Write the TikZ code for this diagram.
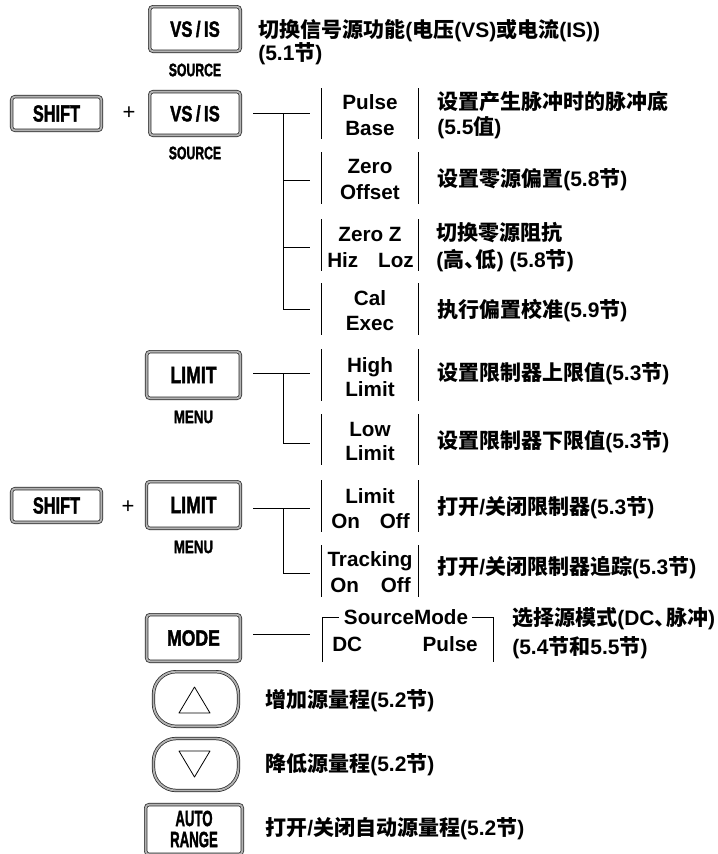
\documentclass[tikz,border=0pt]{standalone}
\usepackage{fontspec}
\usepackage{graphicx}
\setmainfont{Liberation Sans}
\newfontfamily\cjk{Noto Sans CJK SC}
\newfontfamily\keyf{Liberation Sans Bold}[FakeBold=2]
\newcommand\zh[1]{{\cjk\bfseries #1}}
\newcommand\dun{\makebox[0.55em][l]{\cjk\bfseries 、}}
\newcommand\sq[2][0.76]{\scalebox{#1}[1]{#2}}
\newcommand\labfont{\fontsize{15.5pt}{18pt}\selectfont\bfseries}
\newcommand\zhfont{\fontsize{15.75pt}{19pt}\selectfont\bfseries}
\newcommand\keyfont{\keyf\fontsize{17.5pt}{18pt}\selectfont}
\newcommand\vsfont{\keyf\fontsize{16.5pt}{18pt}\selectfont}
\newcommand\autofont{\keyf\fontsize{16.5pt}{15.75pt}\selectfont}
\newcommand\subfont{\keyf\fontsize{13.5pt}{14pt}\selectfont}
\begin{document}
\begin{tikzpicture}[x=0.75pt,y=-0.75pt,
  btn/.style={draw=black!85, double=black!30, line width=0.55pt, double distance=1.4pt,
    rounded corners=2.5pt, inner sep=0pt, font=\keyfont},
  oval/.style={draw=black!85, double=black!30, line width=0.55pt, double distance=1.4pt,
    rounded corners=17pt, inner sep=0pt},
  sub/.style={font=\subfont, inner sep=0pt},
  lab/.style={font=\labfont, inner sep=0pt, anchor=base},
  labw/.style={font=\labfont, inner sep=0pt, anchor=base west},
  labe/.style={font=\labfont, inner sep=0pt, anchor=base east},
  zht/.style={font=\zhfont, inner sep=0pt, anchor=base west},
  plus/.style={font=\fontsize{16.5pt}{18pt}\selectfont, inner sep=0pt},
  wire/.style={line width=0.75pt, black},
  bar/.style={line width=0.75pt, black},
  tri/.style={line width=0.6pt, black, line join=round}]
\useasboundingbox (0,0) rectangle (718,854);

% ---------- row 1 : VS/IS ----------
\node[btn, font=\vsfont, minimum width=68pt, minimum height=33.5pt] (vs1) at (195,29) {\sq{VS\hspace{3.4pt}/\hspace{3.4pt}IS}};
\node[sub] (src1) at (195,70) {\sq[0.68]{SOURCE}};
\node[zht] (t1a) at (258,37.5) {\zh{切换信号源功能}(\zh{电压}(VS)\zh{或电流}(IS))};
\node[zht] (t1b) at (258,60.5) {(5.1\zh{节})};

% ---------- row 2 : SHIFT + VS/IS ----------
\node[btn, minimum width=67.3pt, minimum height=25.3pt] (sh1) at (56.5,113.5) {\sq[0.7]{SHIFT}};
\node[plus] (p1) at (129,113) {+};
\node[btn, font=\vsfont, minimum width=68pt, minimum height=32.8pt] (vs2) at (195,113.5) {\sq{VS\hspace{3.4pt}/\hspace{3.4pt}IS}};
\node[sub] (src2) at (195,153) {\sq[0.68]{SOURCE}};

\coordinate (a0) at (253,113);
\coordinate (aj) at (283,113);
\coordinate (a1) at (310,113);
\coordinate (aj2) at (283,180); \coordinate (a2) at (310,180);
\coordinate (aj3) at (283,247); \coordinate (a3) at (310,247);
\coordinate (aj4) at (283,309); \coordinate (a4) at (310,309);
\draw[wire] (a0) -- (a1);
\draw[wire] (aj) -- (aj4) -- (a4);
\draw[wire] (aj2) -- (a2);
\draw[wire] (aj3) -- (a3);

\foreach \ya/\yb in {88/139,152/204,219/271,283/335}{
  \draw[bar] (321,\ya) -- (321,\yb);
  \draw[bar] (418,\ya) -- (418,\yb);
}
\node[lab] (pb1) at (370,109.5) {Pulse};
\node[lab] (pb2) at (370,135.5) {Base};
\node[lab] (zo1) at (370,173.5) {Zero};
\node[lab] (zo2) at (370,199.5) {Offset};
\node[lab] (zz1) at (370,241.5) {Zero Z};
\node[labw] (zz2) at (327,267.5) {Hiz};
\node[labe] (zz3) at (414,267.5) {Loz};
\node[lab] (ce1) at (370,305.5) {Cal};
\node[lab] (ce2) at (370,330.5) {Exec};

\node[zht] (t2a) at (437,109.5) {\zh{设置产生脉冲时的脉冲底}};
\node[zht] (t2b) at (437,134.5) {(5.5\zh{值})};
\node[zht] (t3) at (437,186.5) {\zh{设置零源偏置}(5.8\zh{节})};
\node[zht] (t4a) at (436,240.5) {\zh{切换零源阻抗}};
\node[zht] (t4b) at (436,267.5) {(\zh{高}\dun\zh{低}) (5.8\zh{节})};
\node[zht] (t5) at (437,317.5) {\zh{执行偏置校准}(5.9\zh{节})};

% ---------- row 3 : LIMIT ----------
\node[btn, minimum width=70.3pt, minimum height=35pt] (lm1) at (193.5,375) {\sq{LIMIT}};
\node[sub] (mn1) at (193.5,417) {\sq[0.74]{MENU}};
\coordinate (b0) at (253,373);
\coordinate (bj) at (283,373);
\coordinate (b1) at (310,373);
\coordinate (bj2) at (283,443); \coordinate (b2) at (310,443);
\draw[wire] (b0) -- (b1);
\draw[wire] (bj) -- (bj2) -- (b2);
\foreach \ya/\yb in {349/401,414/465}{
  \draw[bar] (321,\ya) -- (321,\yb);
  \draw[bar] (418,\ya) -- (418,\yb);
}
\node[lab] (hl1) at (370,372.5) {High};
\node[lab] (hl2) at (370,396.5) {Limit};
\node[lab] (ll1) at (370,436.5) {Low};
\node[lab] (ll2) at (370,460.5) {Limit};
\node[zht] (t6) at (437,380.5) {\zh{设置限制器上限值}(5.3\zh{节})};
\node[zht] (t7) at (437,448.5) {\zh{设置限制器下限值}(5.3\zh{节})};

% ---------- row 4 : SHIFT + LIMIT ----------
\node[btn, minimum width=67.3pt, minimum height=25.3pt] (sh2) at (56.5,505.5) {\sq[0.7]{SHIFT}};
\node[plus] (p2) at (128,507) {+};
\node[btn, minimum width=70.5pt, minimum height=35pt] (lm2) at (193.5,505) {\sq{LIMIT}};
\node[sub] (mn2) at (193.5,547) {\sq[0.74]{MENU}};
\coordinate (c0) at (253,508);
\coordinate (cj) at (283,508);
\coordinate (c1) at (310,508);
\coordinate (cj2) at (283,573); \coordinate (c2) at (310,573);
\draw[wire] (c0) -- (c1);
\draw[wire] (cj) -- (cj2) -- (c2);
\foreach \ya/\yb in {480/532,545/597}{
  \draw[bar] (321,\ya) -- (321,\yb);
  \draw[bar] (418,\ya) -- (418,\yb);
}
\node[lab] (lo1) at (370,503.5) {Limit};
\node[labw] (lo2) at (331,528.5) {On};
\node[labe] (lo3) at (410,528.5) {Off};
\node[lab] (tr1) at (370,566.5) {Tracking};
\node[labw] (tr2) at (330,592.5) {On};
\node[labe] (tr3) at (411,592.5) {Off};
\node[zht] (t8) at (437,514.5) {\zh{打开}/\zh{关闭限制器}(5.3\zh{节})};
\node[zht] (t9) at (437,574.5) {\zh{打开}/\zh{关闭限制器追踪}(5.3\zh{节})};

% ---------- row 5 : MODE ----------
\node[btn, font=\vsfont, minimum width=70.3pt, minimum height=35pt] (md) at (193.5,638) {\sq[0.8]{MODE}};
\coordinate (d0) at (253,634);
\coordinate (d1) at (310,634);
\draw[wire] (d0) -- (d1);
\draw[bar] (322,662) -- (322,617) -- (339,617);
\draw[bar] (472,617) -- (493,617) -- (493,662);
\node[lab] (sm) at (406,624.5) {SourceMode};
\node[labw] (dc) at (332,651.5) {DC};
\node[labe] (pu) at (478,651.5) {Pulse};
\node[zht] (t10a) at (512,625.5) {\zh{选择源模式}(DC\dun\zh{脉冲})};
\node[zht] (t10b) at (512,654.5) {(5.4\zh{节和}5.5\zh{节})};

% ---------- row 6 : up / down ----------
\node[oval, minimum width=63.75pt, minimum height=41pt] (up) at (196,699) {};
\draw[tri] (194.5,687) -- (210,713) -- (179,713) -- cycle;
\node[zht] (t11) at (265,707.5) {\zh{增加源量程}(5.2\zh{节})};

\node[oval, minimum width=63.75pt, minimum height=39pt] (dn) at (196,764.5) {};
\draw[tri] (179,751) -- (210,751) -- (194.5,777) -- cycle;
\node[zht] (t12) at (265,771.5) {\zh{降低源量程}(5.2\zh{节})};

% ---------- row 7 : AUTO RANGE ----------
\node[btn, minimum width=72.5pt, minimum height=37.3pt] (ar) at (194,829.5) {};
\node[font=\autofont, inner sep=0pt, align=center] (art) at (194,829) {\sq[0.6]{AUTO}\\\sq[0.6]{RANGE}};
\node[zht] (t13) at (265,835.5) {\zh{打开}/\zh{关闭自动源量程}(5.2\zh{节})};
\end{tikzpicture}
\end{document}
